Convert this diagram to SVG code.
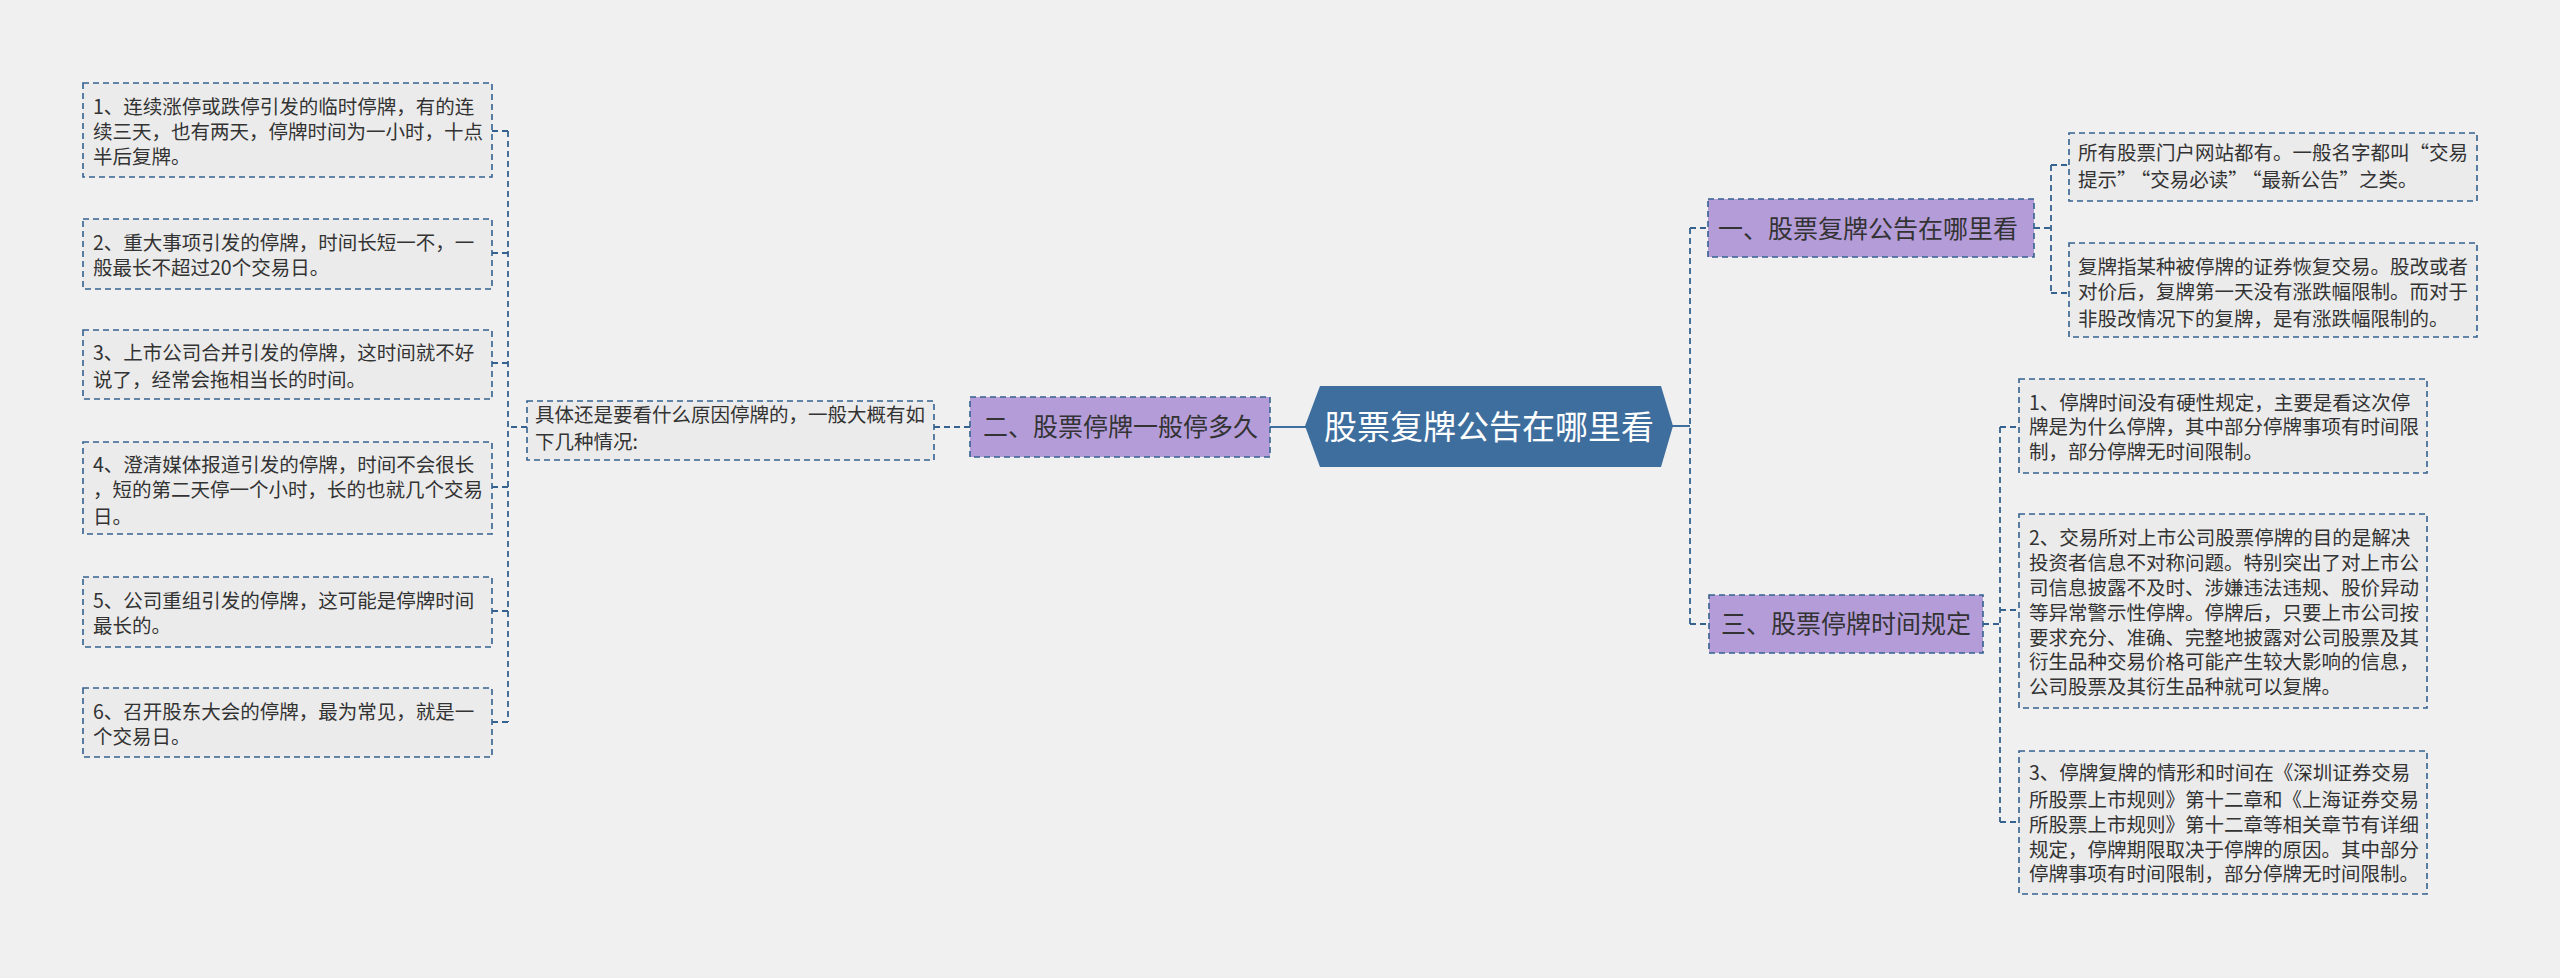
<svg xmlns="http://www.w3.org/2000/svg" width="2560" height="978" viewBox="0 0 2560 978">
<style>
.leaf{fill:#ebebeb;stroke:#35628f;stroke-width:1.6;stroke-dasharray:6 4}
.sub{fill:#b49cd9;stroke:#35628f;stroke-width:1.6;stroke-dasharray:6 4}
.con{fill:none;stroke:#35628f;stroke-width:1.8;stroke-dasharray:6 4}
.solid{fill:none;stroke:#3e6e9e;stroke-width:2}
.t{font-family:"Noto Sans CJK SC","Noto Sans",sans-serif;font-size:19.5px;fill:#333}
.st{font-family:"Noto Sans CJK SC","Noto Sans",sans-serif;font-size:25px;fill:#333}
.ct{font-family:"Noto Sans CJK SC","Noto Sans",sans-serif;font-size:33px;fill:#fff}
</style>
<rect width="2560" height="978" fill="#f0f0f0"/>
<g id="connectors">
<path class="solid" d="M1270 427H1306"/>
<path class="solid" d="M1672 426H1690"/>
<path class="con" d="M1690 228V624M1690 228H1708M1690 624H1709"/>
<path class="con" d="M2034 228H2051M2051 165V293M2051 165H2069M2051 293H2069"/>
<path class="con" d="M1983 624H2000M2000 427V822M2000 427H2019M2000 610H2019M2000 822H2019"/>
<path class="con" d="M934 427H970"/>
<path class="con" d="M527 427H508M508 131V722M508 131H492M508 253H492M508 363H492M508 487H492M508 611H492M508 722H492"/>
</g>
<g id="center">
<polygon points="1305,426 1320,386 1661,386 1673,426 1661,467 1320,467" fill="#3e6e9e"/>
<text class="ct" x="1489" y="439" text-anchor="middle">股票复牌公告在哪里看</text>
</g>
<g id="sub2">
<rect class="sub" x="970" y="397" width="300" height="60"/>
<text class="st" x="983" y="436">二、股票停牌一般停多久</text>
</g>
<g id="para">
<rect class="leaf" x="527" y="401" width="407" height="59"/>
<text class="t"><tspan x="535" y="422">具体还是要看什么原因停牌的，一般大概有如</tspan><tspan x="535" y="449">下几种情况:</tspan></text>
</g>
<g id="l1">
<rect class="leaf" x="83" y="83" width="409" height="94"/>
<text class="t"><tspan x="93" y="114">1、连续涨停或跌停引发的临时停牌，有的连</tspan><tspan x="93" y="139">续三天，也有两天，停牌时间为一小时，十点</tspan><tspan x="93" y="164">半后复牌。</tspan></text>
</g>
<g id="l2">
<rect class="leaf" x="83" y="219" width="409" height="70"/>
<text class="t"><tspan x="93" y="250">2、重大事项引发的停牌，时间长短一不，一</tspan><tspan x="93" y="275">般最长不超过20个交易日。</tspan></text>
</g>
<g id="l3">
<rect class="leaf" x="83" y="330" width="409" height="69"/>
<text class="t"><tspan x="93" y="360">3、上市公司合并引发的停牌，这时间就不好</tspan><tspan x="93" y="387">说了，经常会拖相当长的时间。</tspan></text>
</g>
<g id="l4">
<rect class="leaf" x="83" y="442" width="409" height="92"/>
<text class="t"><tspan x="93" y="472">4、澄清媒体报道引发的停牌，时间不会很长</tspan><tspan x="93" y="497">，短的第二天停一个小时，长的也就几个交易</tspan><tspan x="93" y="524">日。</tspan></text>
</g>
<g id="l5">
<rect class="leaf" x="83" y="577" width="409" height="70"/>
<text class="t"><tspan x="93" y="608">5、公司重组引发的停牌，这可能是停牌时间</tspan><tspan x="93" y="633">最长的。</tspan></text>
</g>
<g id="l6">
<rect class="leaf" x="83" y="688" width="409" height="69"/>
<text class="t"><tspan x="93" y="719">6、召开股东大会的停牌，最为常见，就是一</tspan><tspan x="93" y="744">个交易日。</tspan></text>
</g>
<g id="sub1">
<rect class="sub" x="1708" y="199" width="326" height="58"/>
<text class="st" x="1718" y="238">一、股票复牌公告在哪里看</text>
</g>
<g id="r1a">
<rect class="leaf" x="2069" y="133" width="408" height="68"/>
<text class="t"><tspan x="2078" y="160">所有股票门户网站都有。一般名字都叫“交易</tspan><tspan x="2078" y="187">提示”</tspan><tspan dx="4">“交易必读”</tspan><tspan dx="4">“最新公告”之类。</tspan></text>
</g>
<g id="r1b">
<rect class="leaf" x="2069" y="243" width="408" height="94"/>
<text class="t"><tspan x="2078" y="274">复牌指某种被停牌的证券恢复交易。股改或者</tspan><tspan x="2078" y="299">对价后，复牌第一天没有涨跌幅限制。而对于</tspan><tspan x="2078" y="326">非股改情况下的复牌，是有涨跌幅限制的。</tspan></text>
</g>
<g id="sub3">
<rect class="sub" x="1709" y="595" width="274" height="58"/>
<text class="st" x="1721" y="633">三、股票停牌时间规定</text>
</g>
<g id="r3a">
<rect class="leaf" x="2019" y="379" width="408" height="94"/>
<text class="t"><tspan x="2029" y="410">1、停牌时间没有硬性规定，主要是看这次停</tspan><tspan x="2029" y="434">牌是为什么停牌，其中部分停牌事项有时间限</tspan><tspan x="2029" y="459">制，部分停牌无时间限制。</tspan></text>
</g>
<g id="r3b">
<rect class="leaf" x="2019" y="514" width="408" height="194"/>
<text class="t"><tspan x="2029" y="545">2、交易所对上市公司股票停牌的目的是解决</tspan><tspan x="2029" y="570">投资者信息不对称问题。特别突出了对上市公</tspan><tspan x="2029" y="595">司信息披露不及时、涉嫌违法违规、股价异动</tspan><tspan x="2029" y="620">等异常警示性停牌。停牌后，只要上市公司按</tspan><tspan x="2029" y="645">要求充分、准确、完整地披露对公司股票及其</tspan><tspan x="2029" y="669">衍生品种交易价格可能产生较大影响的信息，</tspan><tspan x="2029" y="694">公司股票及其衍生品种就可以复牌。</tspan></text>
</g>
<g id="r3c">
<rect class="leaf" x="2019" y="751" width="408" height="143"/>
<text class="t"><tspan x="2029" y="780">3、停牌复牌的情形和时间在《深圳证券交易</tspan><tspan x="2029" y="807">所股票上市规则》第十二章和《上海证券交易</tspan><tspan x="2029" y="832">所股票上市规则》第十二章等相关章节有详细</tspan><tspan x="2029" y="857">规定，停牌期限取决于停牌的原因。其中部分</tspan><tspan x="2029" y="881">停牌事项有时间限制，部分停牌无时间限制。</tspan></text>
</g>
</svg>
